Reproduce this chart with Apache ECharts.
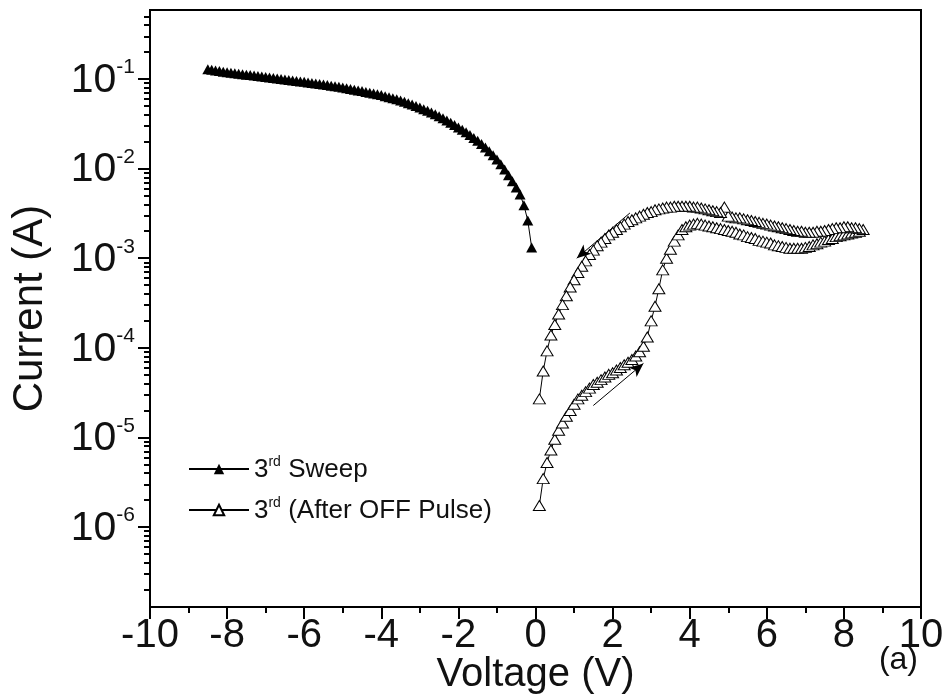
<!DOCTYPE html>
<html>
<head>
<meta charset="utf-8">
<script src="https://cdn.jsdelivr.net/npm/echarts@6/dist/echarts.min.js"></script>
<style>
html,body{margin:0;padding:0;background:#fff;}
#chart{width:943px;height:695px;}
</style>
</head>
<body>
<div id="chart"></div>
<script>
// 3rd sweep, negative bias (V, A)
const sweepV = [
  -8.5,-8.4,-8.3,-8.2,-8.1, -8.0,-7.9,-7.8,-7.7,-7.6, -7.5,-7.4,-7.3,-7.2,-7.1,
  -7.0,-6.9,-6.8,-6.7,-6.6, -6.5,-6.4,-6.3,-6.2,-6.1, -6.0,-5.9,-5.8,-5.7,-5.6,
  -5.5,-5.4,-5.3,-5.2,-5.1, -5.0,-4.9,-4.8,-4.7,-4.6, -4.5,-4.4,-4.3,-4.2,-4.1,
  -4.0,-3.9,-3.8,-3.7,-3.6, -3.5,-3.4,-3.3,-3.2,-3.1, -3.0,-2.9,-2.8,-2.7,-2.6,
  -2.5,-2.4,-2.3,-2.2,-2.1, -2.0,-1.9,-1.8,-1.7,-1.6, -1.5,-1.4,-1.3,-1.2,-1.1,
  -1.0,-0.9,-0.8,-0.7,-0.6, -0.5,-0.4,-0.3,-0.2,-0.1
];
const sweepI = [
  0.1288,0.1268,0.1247,0.1227,0.1208, 0.1189,0.1175,0.1161,0.1146,0.1132,
  0.1119,0.1107,0.1091,0.1079,0.1064, 0.1052,0.1040,0.1026,0.1014,0.1000,
  0.0989,0.0977,0.0964,0.0953,0.0940, 0.0929,0.0916,0.0904,0.0891,0.0879,
  0.0867,0.0855,0.0841,0.0830,0.0817, 0.0804,0.0789,0.0774,0.0760,0.0746,
  0.0733,0.0718,0.0703,0.0689,0.0675, 0.0661,0.0644,0.0627,0.0610,0.0593,
  0.0575,0.0556,0.0537,0.0518,0.0499, 0.0481,0.0461,0.0442,0.0422,0.0403,
  0.0385,0.0365,0.0345,0.0325,0.0306, 0.0288,0.0271,0.0254,0.0237,0.0220,
  0.0204,0.0188,0.0172,0.0156,0.0141, 0.0126,0.0112,0.00977,0.00841,0.00724,
  0.00617,0.00513,0.00389,0.00263,0.00132
];

// 3rd sweep after OFF pulse: forward branch 0.1 V -> 8.5 V
const offUpV = [
  0.1,0.2,0.3,0.4,0.5, 0.6,0.7,0.8,0.9,1.0, 1.1,1.2,1.3,1.4,1.5, 1.6,1.7,1.8,1.9,2.0,
  2.1,2.2,2.3,2.4,2.5, 2.6,2.7,2.8,2.9,3.0, 3.1,3.2,3.3,3.4,3.5, 3.6,3.7,3.8,3.9,4.0,
  4.1,4.2,4.3,4.4,4.5, 4.6,4.7,4.8,4.9,5.0, 5.1,5.2,5.3,5.4,5.5, 5.6,5.7,5.8,5.9,6.0,
  6.1,6.2,6.3,6.4,6.5, 6.6,6.7,6.8,6.9,7.0, 7.1,7.2,7.3,7.4,7.5, 7.6,7.7,7.8,7.9,8.0,
  8.1,8.2,8.3,8.4,8.5
];
const offUpI = [
  1.74e-6,3.47e-6,5.25e-6,7.24e-6,9.55e-6, 1.20e-5,1.45e-5,1.72e-5,2.00e-5,2.34e-5,
  2.69e-5,2.95e-5,3.24e-5,3.55e-5,3.89e-5, 4.12e-5,4.41e-5,4.72e-5,5.05e-5,5.27e-5,
  5.65e-5,6.04e-5,6.46e-5,6.90e-5,7.40e-5, 8.09e-5,9.04e-5,1.04e-4,1.32e-4,2.00e-4,
  2.91e-4,4.57e-4,7.41e-4,1.00e-3,1.26e-3, 1.55e-3,1.82e-3,2.09e-3,2.24e-3,2.34e-3,
  2.40e-3,2.45e-3,2.40e-3,2.34e-3,2.29e-3, 2.24e-3,2.19e-3,2.14e-3,2.09e-3,2.04e-3,
  2.00e-3,1.95e-3,1.86e-3,1.82e-3,1.74e-3, 1.70e-3,1.66e-3,1.58e-3,1.55e-3,1.51e-3,
  1.48e-3,1.41e-3,1.38e-3,1.35e-3,1.32e-3, 1.29e-3,1.29e-3,1.29e-3,1.29e-3,1.32e-3,
  1.35e-3,1.41e-3,1.45e-3,1.51e-3,1.55e-3, 1.62e-3,1.66e-3,1.74e-3,1.78e-3,1.82e-3,
  1.86e-3,1.91e-3,1.95e-3,2.00e-3,2.09e-3
];
// return branch 8.4 V -> 0.1 V
const offDownV = [
  8.4,8.3,8.2,8.1,8.0, 7.9,7.8,7.7,7.6,7.5, 7.4,7.3,7.2,7.1,7.0, 6.9,6.8,6.7,6.6,6.5,
  6.4,6.3,6.2,6.1,6.0, 5.9,5.8,5.7,5.6,5.5, 5.4,5.3,5.2,5.1,5.0, 4.9,4.8,4.7,4.6,4.5,
  4.4,4.3,4.2,4.1,4.0, 3.9,3.8,3.7,3.6,3.5, 3.4,3.3,3.2,3.1,3.0, 2.9,2.8,2.7,2.6,2.5,
  2.4,2.3,2.2,2.1,2.0, 1.9,1.8,1.7,1.6,1.5, 1.4,1.3,1.2,1.1,1.0, 0.9,0.8,0.7,0.6,0.5,
  0.4,0.3,0.2,0.1
];
const offDownI = [
  2.14e-3,2.19e-3,2.19e-3,2.24e-3,2.24e-3, 2.19e-3,2.19e-3,2.14e-3,2.09e-3,2.04e-3,
  2.00e-3,2.00e-3,1.95e-3,1.95e-3,1.95e-3, 2.00e-3,2.00e-3,2.04e-3,2.09e-3,2.14e-3,
  2.19e-3,2.24e-3,2.29e-3,2.34e-3,2.40e-3, 2.45e-3,2.51e-3,2.57e-3,2.63e-3,2.69e-3,
  2.75e-3,2.82e-3,2.82e-3,2.88e-3,2.95e-3, 3.72e-3,3.24e-3,3.31e-3,3.39e-3,3.47e-3,
  3.55e-3,3.63e-3,3.72e-3,3.72e-3,3.80e-3, 3.80e-3,3.80e-3,3.80e-3,3.80e-3,3.72e-3,
  3.72e-3,3.63e-3,3.55e-3,3.47e-3,3.31e-3, 3.24e-3,3.09e-3,2.95e-3,2.82e-3,2.69e-3,
  2.57e-3,2.40e-3,2.24e-3,2.09e-3,1.95e-3, 1.82e-3,1.66e-3,1.51e-3,1.38e-3,1.23e-3,
  1.10e-3,9.33e-4,8.13e-4,6.92e-4,5.75e-4, 4.77e-4,3.81e-4,3.03e-4,2.38e-4,1.82e-4,
  1.39e-4,9.25e-5,5.52e-5,2.69e-5
];

// sweep-direction arrows: [start, end] as [V, A]
const arrowReturn = [[2.45, 3.2e-3], [1.07, 1.0e-3]];
const arrowForward = [[1.50, 2.27e-5], [2.80, 6.7e-5]];

// axes
const xRange = [-10, 10];
const xStep = 2;
const currentRange = [1.28e-7, 0.589];
const decadeExponents = [-6, -5, -4, -3, -2, -1];

const seriesNames = ['3rd Sweep', '3rd (After OFF Pulse)'];

const FONT = '"Liberation Sans", Arial, sans-serif';
const INK = '#111';
const lg = Math.log10;

const toPoints = (vs, is) => vs.map((v, k) => [v, lg(is[k])]);
const sweepData = toPoints(sweepV, sweepI);
const offData = toPoints(offUpV, offUpI).concat(toPoints(offDownV, offDownI));

// minor ticks at 2..9 x 10^n inside the visible range
const yMin = lg(currentRange[0]), yMax = lg(currentRange[1]);
const minorLogs = [];
for (let n = -8; n <= 0; n++) {
  for (let k = 2; k <= 9; k++) {
    const v = lg(k) + n;
    if (v >= yMin - 1e-9 && v <= yMax + 1e-9) minorLogs.push(v);
  }
}

const arrowLine = (a) => [{ coord: [a[0][0], lg(a[0][1])] }, { coord: [a[1][0], lg(a[1][1])] }];
const tickLine = { color: '#000', width: 2 };

const chart = echarts.init(document.getElementById('chart'), null, { renderer: 'canvas' });
chart.setOption({
  animation: false,
  backgroundColor: '#fff',
  grid: {
    left: 150, right: 22, top: 10, bottom: 88,
    show: true, borderColor: '#000', borderWidth: 2,
    containLabel: false, outerBoundsMode: 'none'
  },
  legend: {
    orient: 'vertical',
    left: 183, top: 450,
    itemWidth: 60, itemHeight: 13, itemGap: 13,
    data: seriesNames,
    formatter: (name) => '{n|3}{s|rd}{n|' + name.slice(3) + '}',
    textStyle: {
      color: INK, fontFamily: FONT, fontSize: 26,
      rich: {
        n: { fontSize: 26, fontFamily: FONT, color: INK, lineHeight: 28, verticalAlign: 'bottom' },
        s: { fontSize: 14, fontFamily: FONT, color: INK, lineHeight: 16, verticalAlign: 'top' }
      }
    }
  },
  xAxis: {
    type: 'value', min: xRange[0], max: xRange[1], interval: xStep,
    name: 'Voltage (V)', nameLocation: 'middle', nameGap: 48, nameMoveOverlap: false,
    nameTextStyle: { fontFamily: FONT, fontSize: 40, color: INK },
    axisLine: { show: true, onZero: false, lineStyle: tickLine },
    axisTick: { show: true, inside: false, length: 12, lineStyle: tickLine },
    minorTick: { show: true, splitNumber: 2, length: 6, lineStyle: tickLine },
    splitLine: { show: false },
    minorSplitLine: { show: false },
    axisLabel: { fontFamily: FONT, fontSize: 40, color: INK, margin: 9 }
  },
  yAxis: [
    {
      type: 'value', min: yMin, max: yMax,
      name: 'Current (A)', nameLocation: 'middle', nameGap: 99, nameRotate: 90, nameMoveOverlap: false,
      nameTextStyle: { fontFamily: FONT, fontSize: 42, color: INK },
      axisLine: { show: true, onZero: false, lineStyle: tickLine },
      axisTick: { show: true, inside: false, length: 12, customValues: decadeExponents, lineStyle: tickLine },
      splitLine: { show: false },
      axisLabel: {
        customValues: decadeExponents, margin: 15,
        formatter: (v) => '{b|10}{s|' + Math.round(v) + '}',
        rich: {
          b: { fontFamily: FONT, fontSize: 41, color: INK, lineHeight: 44, verticalAlign: 'bottom' },
          s: { fontFamily: FONT, fontSize: 21, color: INK, lineHeight: 23, verticalAlign: 'top' }
        }
      }
    },
    {
      type: 'value', min: yMin, max: yMax, position: 'left',
      axisLine: { show: false, onZero: false },
      axisTick: { show: true, inside: false, length: 6, customValues: minorLogs, lineStyle: tickLine },
      axisLabel: { show: false, customValues: minorLogs },
      splitLine: { show: false }
    }
  ],
  series: [
    {
      name: seriesNames[0], type: 'line', data: sweepData,
      symbol: 'triangle', symbolSize: [11, 10],
      itemStyle: { color: '#000', borderColor: '#000', borderWidth: 0 },
      lineStyle: { color: '#000', width: 1 },
      z: 3
    },
    {
      name: seriesNames[1], type: 'line', data: offData,
      symbol: 'triangle', symbolSize: [12, 10],
      itemStyle: { color: '#fff', borderColor: '#000', borderWidth: 1 },
      lineStyle: { color: '#000', width: 1 },
      z: 3,
      markLine: {
        silent: true, animation: false,
        symbol: ['none', 'arrow'], symbolSize: [9, 14],
        label: { show: false },
        lineStyle: { color: '#000', width: 1, type: 'solid' },
        data: [arrowLine(arrowReturn), arrowLine(arrowForward)]
      }
    }
  ],
  graphic: [
    {
      type: 'text', right: 25, top: 644,
      style: { text: '(a)', fontFamily: FONT, fontSize: 32, fill: INK }
    }
  ]
});
</script>
</body>
</html>
